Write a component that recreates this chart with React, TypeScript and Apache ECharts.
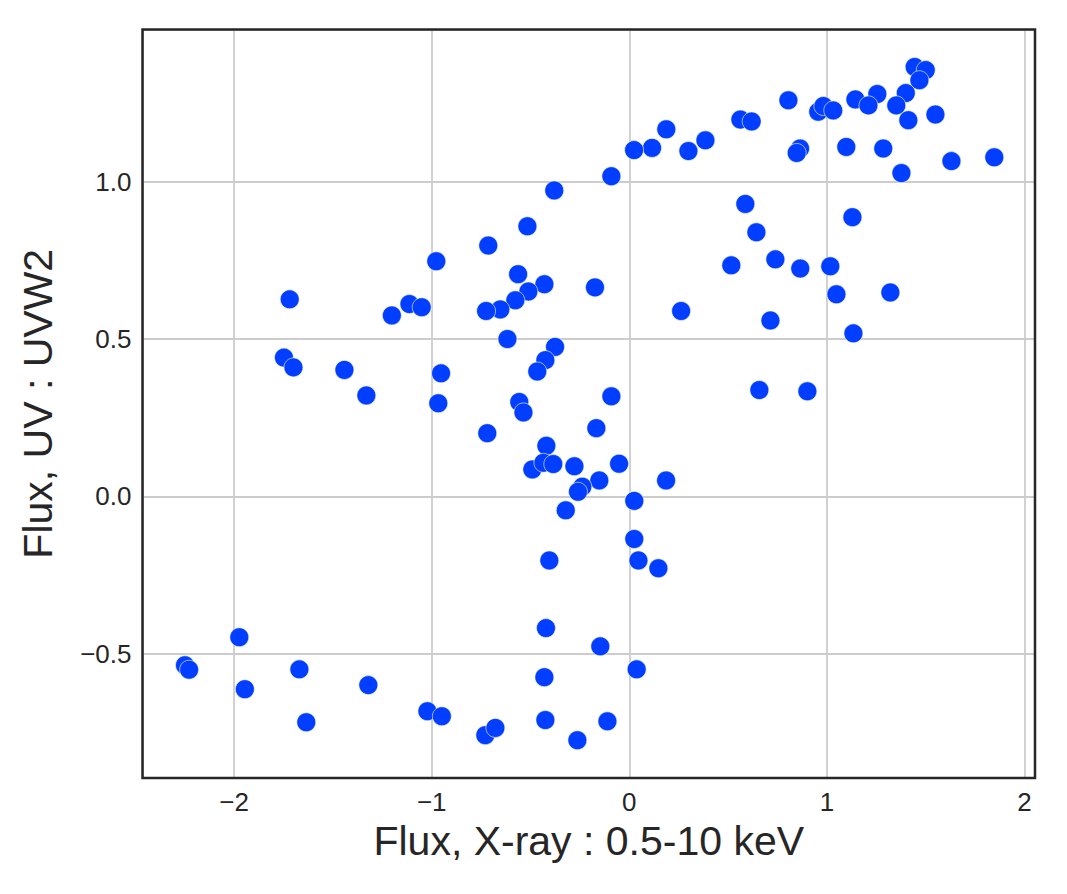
import React, { useEffect, useRef } from "react";
import * as echarts from "echarts";

const xrayFlux: number[] = [
  1.444, 1.5, 1.468, 1.399, 1.255, 1.144, 1.21, 1.351, 1.412, 1.549,
  0.805, 0.956, 0.982, 1.032, 1.098, 1.285, 1.377, 1.63, 1.847,
  0.562, 0.619, 0.187, 0.115, 0.024, 0.299, 0.385, -0.091, -0.38, 0.864, 0.847,
  0.587, 1.129, 0.643, -0.516, -0.714, 0.516, 0.739, 0.865, 1.017,
  -1.719, -0.977, -1.202, -1.113, -1.051, -0.43, -0.174, -0.563, -0.511, -0.577, -0.653, -0.725, -0.617,
  0.262, 1.048, 1.321, 0.714, 1.134,
  -0.376, -0.425, -0.466, -1.748, -1.7, -1.442, -1.331, -0.953, -0.967, -0.091, 0.658, 0.901,
  -0.557, -0.536, -0.167, -0.719, -0.42, -0.491, -0.435, -0.385, -0.278, -0.052, 0.186, -0.152,
  -0.238, -0.26, -0.322, 0.025, 0.025, 0.046, 0.147, -0.405,
  -1.974, -2.249, -2.228, -1.67, -1.946, -1.321, -1.635, -1.022, -0.949, -0.729, -0.678,
  -0.422, -0.147, -0.43, 0.037, -0.425, -0.263, -0.111,
];

const uvFlux: number[] = [
  1.364, 1.354, 1.322, 1.281, 1.278, 1.261, 1.242, 1.242, 1.195, 1.213,
  1.258, 1.222, 1.24, 1.226, 1.11, 1.105, 1.027, 1.065, 1.077,
  1.197, 1.191, 1.166, 1.107, 1.1, 1.097, 1.131, 1.017, 0.972, 1.105, 1.091,
  0.929, 0.887, 0.839, 0.858, 0.797, 0.734, 0.753, 0.724, 0.731,
  0.626, 0.747, 0.575, 0.611, 0.601, 0.674, 0.664, 0.706, 0.651, 0.623, 0.594, 0.589, 0.5,
  0.589, 0.642, 0.648, 0.559, 0.518,
  0.475, 0.433, 0.397, 0.441, 0.41, 0.402, 0.321, 0.391, 0.296, 0.318, 0.338, 0.334,
  0.3, 0.267, 0.217, 0.201, 0.161, 0.086, 0.107, 0.103, 0.096, 0.104, 0.051, 0.051,
  0.031, 0.015, -0.044, -0.014, -0.135, -0.203, -0.228, -0.203,
  -0.447, -0.536, -0.55, -0.549, -0.612, -0.599, -0.717, -0.682, -0.698, -0.758, -0.735,
  -0.418, -0.476, -0.574, -0.549, -0.71, -0.774, -0.714,
];

const xAxisTitle = "Flux, X-ray : 0.5-10 keV";
const yAxisTitle = "Flux, UV : UVW2";

const FONT = "'Liberation Sans', Arial, Helvetica, sans-serif";
const TEXT = "#262626";

const W = 1067;
const H = 894;
const G_LEFT = 142.5;
const G_RIGHT = 32;
const G_TOP = 29.5;
const G_BOTTOM = 116;

export default function App() {
  const ref = useRef<HTMLDivElement>(null);

  useEffect(() => {
    if (!ref.current) return;
    const chart = echarts.init(ref.current, undefined, { renderer: "svg" });
    const points = xrayFlux.map((x, i) => [x, uvFlux[i]]);
    const minus = (s: string) => s.replace("-", "\u2212");
    chart.setOption({
      animation: false,
      backgroundColor: "#ffffff",
      textStyle: { fontFamily: FONT },
      grid: {
        left: G_LEFT,
        right: G_RIGHT,
        top: G_TOP,
        bottom: G_BOTTOM,
        show: false,
      },
      graphic: [
        {
          type: "rect",
          z: 100,
          silent: true,
          shape: {
            x: G_LEFT,
            y: G_TOP,
            width: W - G_RIGHT - G_LEFT,
            height: H - G_BOTTOM - G_TOP,
          },
          style: { fill: "none", stroke: TEXT, lineWidth: 2.5 },
        },
      ],
      xAxis: {
        type: "value",
        min: -2.464,
        max: 2.053,
        splitNumber: 5,
        name: xAxisTitle,
        nameLocation: "middle",
        nameGap: 42,
        nameTextStyle: { fontSize: 41, color: TEXT, fontFamily: FONT },
        axisLine: { show: false },
        axisTick: { show: false },
        axisLabel: {
          showMinLabel: false,
          showMaxLabel: false,
          fontSize: 26,
          color: TEXT,
          fontFamily: FONT,
          margin: 11,
          formatter: (v: number) => minus(String(Math.round(v))),
        },
        splitLine: { show: true, lineStyle: { color: "#cccccc", width: 1.8 } },
      },
      yAxis: {
        type: "value",
        min: -0.894,
        max: 1.483,
        splitNumber: 5,
        name: yAxisTitle,
        nameLocation: "middle",
        nameRotate: 90,
        nameGap: 84,
        nameTextStyle: { fontSize: 41, color: TEXT, fontFamily: FONT },
        axisLine: { show: false },
        axisTick: { show: false },
        axisLabel: {
          showMinLabel: false,
          showMaxLabel: false,
          fontSize: 26,
          color: TEXT,
          fontFamily: FONT,
          margin: 11,
          formatter: (v: number) => minus(v.toFixed(1)),
        },
        splitLine: { show: true, lineStyle: { color: "#cccccc", width: 1.8 } },
      },
      series: [
        {
          type: "scatter",
          data: points,
          symbol: "circle",
          symbolSize: 19,
          itemStyle: { color: "#023eff", borderColor: "#ffffff", borderWidth: 0.6, opacity: 1 },
        },
      ],
    });
    return () => chart.dispose();
  }, []);

  return (
    <div
      ref={ref}
      style={{ position: "fixed", left: 0, top: 0, width: W, height: H, background: "#fff" }}
    />
  );
}
